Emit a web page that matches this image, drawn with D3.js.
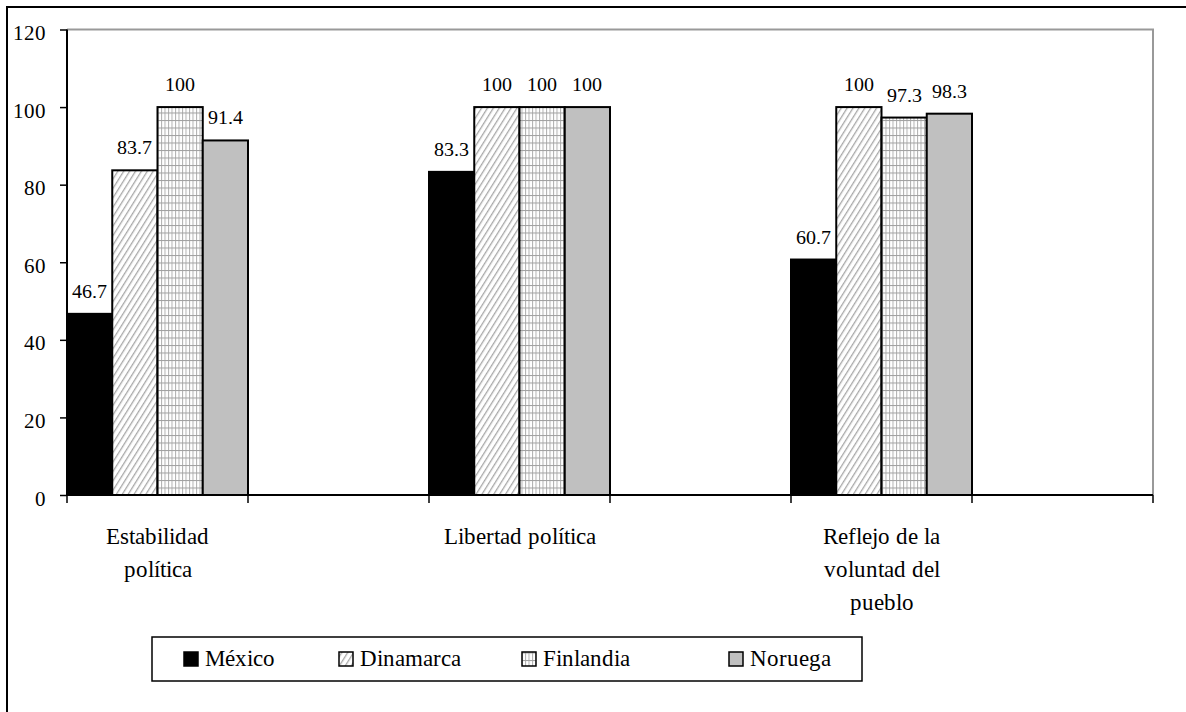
<!DOCTYPE html>
<html><head><meta charset="utf-8">
<script src="https://cdn.jsdelivr.net/npm/d3@7"></script>
<style>
@font-face {
  font-family: "ChartSerif";
  src: local("Liberation Serif"), local("LiberationSerif"), local("LiberationSerif-Regular"),
       local("Liberation Serif Regular"), local("Tinos"), local("Tinos Regular");
}
html,body{margin:0;background:#fff;}
.t { font-family: "ChartSerif", "Liberation Serif", monospace; fill:#000; }
</style></head>
<body>
<svg id="s" width="1186" height="712"></svg>
<script>
// ---- data ----
const categories = [
  ["Estabilidad", "política"],
  ["Libertad política"],
  ["Reflejo de la", "voluntad del", "pueblo"]
];
const series = ["México", "Dinamarca", "Finlandia", "Noruega"];
const mexico    = [46.7, 83.3, 60.7];
const dinamarca = [83.7, 100, 100];
const finlandia = [100, 100, 97.3];
const noruega   = [91.4, 100, 98.3];
const yTicks = [0, 20, 40, 60, 80, 100, 120];

const values = [mexico, dinamarca, finlandia, noruega];

const svg = d3.select("#s");
const defs = svg.append("defs");

function label(x, yy, size, anchor, txt) {
  svg.append("text").attr("class", "t")
    .attr("x", x).attr("y", yy).attr("font-size", size)
    .attr("text-anchor", anchor)
    .text(txt);
}

// patterns
const diag = defs.append("pattern").attr("id","diag").attr("patternUnits","userSpaceOnUse")
  .attr("width",5).attr("height",10).attr("patternTransform","rotate(32)");
diag.append("rect").attr("width",5).attr("height",10).attr("fill","#fff");
diag.append("rect").attr("x",0).attr("width",1.3).attr("height",10).attr("fill","#a8a8a8");

const grid = defs.append("pattern").attr("id","grid").attr("patternUnits","userSpaceOnUse")
  .attr("width",3.5).attr("height",7.5);
grid.append("rect").attr("width",3.5).attr("height",7.5).attr("fill","#fff");
grid.append("rect").attr("x",0).attr("width",1).attr("height",7.5).attr("fill","#b0b0b0");
grid.append("rect").attr("y",0).attr("width",3.5).attr("height",1).attr("fill","#a0a0a0");

const fills = ["#000000", "url(#diag)", "url(#grid)", "#c0c0c0"];

// outer frame
svg.append("rect").attr("x",7).attr("y",7).attr("width",1300).attr("height",800)
  .attr("fill","none").attr("stroke","#000").attr("stroke-width",2);

const plot = {left:67, right:1153, top:29.5, bottom:495};

// slots: each category followed by an empty slot
const slots = [];
categories.forEach((c,i)=>{ slots.push("c"+i); slots.push("e"+i); });
const x0 = d3.scaleBand().domain(slots).range([plot.left, plot.right]).padding(0);
const x1 = d3.scaleBand().domain(series).range([0, x0.bandwidth()]).padding(0);
const y = d3.scaleLinear().domain([0,120]).range([plot.bottom, plot.top]);

// plot area border (top/right gray)
svg.append("path")
  .attr("d", `M${plot.left},${plot.top}H${plot.right}V${plot.bottom}`)
  .attr("fill","none").attr("stroke","#999").attr("stroke-width",2);

// bars
series.forEach((s, si) => {
  svg.append("g").selectAll("rect").data(values[si]).join("rect")
    .attr("x", (d,i)=> x0("c"+i) + x1(s))
    .attr("y", d => y(d))
    .attr("width", x1.bandwidth())
    .attr("height", d => y(0) - y(d))
    .attr("fill", fills[si])
    .attr("stroke", "#000").attr("stroke-width", 2);
});
// data labels
series.forEach((s, si) => {
  values[si].forEach((d, i) => {
    label(x0("c"+i) + x1(s) + x1.bandwidth()/2, y(d) - 16, 20, "middle", String(d));
  });
});

// y axis
const yAxis = d3.axisLeft(y).tickValues(yTicks).tickSize(7).tickFormat("");
const ya = svg.append("g").attr("transform",`translate(${plot.left},0)`).call(yAxis);
ya.select(".domain").attr("stroke","#000").attr("stroke-width",2).attr("d",`M0,${plot.top}V${plot.bottom}`);
ya.selectAll(".tick line").attr("stroke","#000").attr("stroke-width",1.5);
ya.selectAll(".tick text").remove();
yTicks.forEach(t => label(plot.left - 21, y(t) + 10.5, 21, "end", String(t)));

// x axis line and ticks at slot boundaries
svg.append("line").attr("x1",plot.left).attr("x2",plot.right).attr("y1",plot.bottom).attr("y2",plot.bottom)
  .attr("stroke","#000").attr("stroke-width",2);
const bounds = slots.map(s => x0(s)).concat([plot.right]);
svg.selectAll(".xtick").data(bounds).join("line").attr("class","xtick")
  .attr("x1",d=>d).attr("x2",d=>d).attr("y1",plot.bottom).attr("y2",plot.bottom+8)
  .attr("stroke","#000").attr("stroke-width",1.5);

// category labels
categories.forEach((lines, i) => {
  const cx = x0("c"+i) + x0.bandwidth()/2;
  lines.forEach((ln, li) => label(cx, 544 + li*33, 23, "middle", ln));
});

// legend
const legendBox = {x:152, y:637, w:710, h:44};
svg.append("rect").attr("x",legendBox.x).attr("y",legendBox.y).attr("width",legendBox.w).attr("height",legendBox.h)
  .attr("fill","#fff").attr("stroke","#000").attr("stroke-width",1.5);
const legendX = [184, 339, 522, 729];
series.forEach((s, si) => {
  svg.append("rect").attr("x",legendX[si]).attr("y",legendBox.y+15).attr("width",14).attr("height",14)
    .attr("fill",fills[si]).attr("stroke","#000").attr("stroke-width",1.5);
  label(legendX[si] + 21, legendBox.y + 29, 23, "start", s);
});
</script>
</body></html>
